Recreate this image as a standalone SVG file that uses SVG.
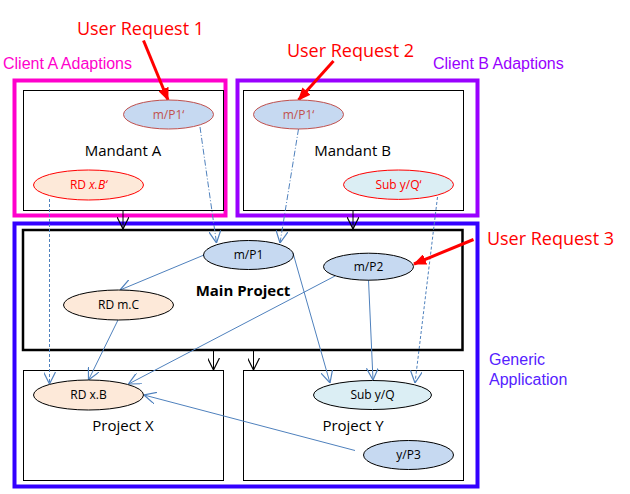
<svg xmlns="http://www.w3.org/2000/svg" width="630" height="494" viewBox="0 0 630 494">
<defs>
<style>
.frame{fill:none;stroke-width:4}
.box{fill:#fff;stroke:#000;stroke-width:1}
.t{font-family:"Open Sans","Liberation Sans",sans-serif;text-anchor:middle}
.lbl{font-family:"Liberation Sans",Arial,sans-serif;font-size:16px}
.ell{font-family:"Open Sans","Liberation Sans",sans-serif;font-size:12px;text-anchor:middle}
.blue{fill:#C6D9F1}
.peach{fill:#FDE9D9}
.cyan{fill:#DBEEF4}
.bl{stroke:#4F81BD;stroke-width:1;fill:none}
.dd{stroke:#4F81BD;stroke-width:1;fill:none;stroke-dasharray:6 2 1 2}
.ds{stroke:#4F81BD;stroke-width:1;fill:none;stroke-dasharray:3 2}
.blk{stroke:#000;stroke-width:1;fill:none}
.red{stroke:#FF0000;stroke-width:3;fill:none}
</style>
<marker id="ob" markerWidth="12" markerHeight="12" refX="10" refY="5" orient="auto" markerUnits="userSpaceOnUse" viewBox="0 0 10 10">
<path d="M0,0 L10,5 L0,10" fill="none" stroke="#4F81BD" stroke-width="1"/>
</marker>
<marker id="ok" markerWidth="12" markerHeight="12" refX="10" refY="5" orient="auto" markerUnits="userSpaceOnUse" viewBox="0 0 10 10">
<path d="M0,0 L10,5 L0,10" fill="none" stroke="#000" stroke-width="1"/>
</marker>
<marker id="rd" markerWidth="13" markerHeight="11" refX="12" refY="5.5" orient="auto" markerUnits="userSpaceOnUse" viewBox="0 0 13 11">
<path d="M0,0 L13,5.5 L0,11 Z" fill="#FF0000"/>
</marker>
</defs>
<rect width="630" height="494" fill="#fff"/>

<g id="generic-application">
<rect class="frame" x="14.5" y="223.5" width="463" height="263" stroke="#3300FF"/>
<text class="lbl" x="489" y="365" fill="#5522FF">Generic</text>
<text class="lbl" x="489" y="384.5" fill="#5522FF">Application</text>
</g>
<g id="client-a">
<rect class="frame" x="14.5" y="80.5" width="211" height="135" stroke="#FF00CC"/>
<text class="lbl" x="3" y="69" fill="#FF00CC">Client A Adaptions</text>
</g>
<g id="client-b">
<rect class="frame" x="237.5" y="80.5" width="240" height="135" stroke="#9900FF"/>
<text class="lbl" x="433" y="68.5" fill="#9900FF">Client B Adaptions</text>
</g>
<g id="mandant-a">
<rect class="box" x="23.5" y="90.5" width="200" height="120"/>
<text class="t" x="123" y="156" font-size="15">Mandant A</text>
</g>
<g id="mandant-b">
<rect class="box" x="243.5" y="90.5" width="220" height="120"/>
<text class="t" x="352.5" y="156" font-size="15">Mandant B</text>
</g>
<g id="main-project">
<rect x="23" y="230" width="439.5" height="120" fill="#fff" stroke="#000" stroke-width="2.5"/>
<text class="t" x="243" y="296" font-size="15" font-weight="bold">Main Project</text>
</g>
<g id="project-x">
<rect class="box" x="23.5" y="370.5" width="200" height="110"/>
<text class="t" x="123" y="431" font-size="15">Project X</text>
</g>
<g id="project-y">
<rect class="box" x="243.5" y="370.5" width="220" height="110"/>
<text class="t" x="353" y="431" font-size="15">Project Y</text>
</g>

<g id="connectors">
<line class="blk" x1="123" y1="211" x2="123" y2="229" marker-end="url(#ok)"/>
<line class="blk" x1="353" y1="211" x2="353" y2="229" marker-end="url(#ok)"/>
<line class="blk" x1="213.5" y1="351" x2="213.5" y2="370" marker-end="url(#ok)"/>
<line class="blk" x1="253.5" y1="351" x2="253.5" y2="370" marker-end="url(#ok)"/>
<line class="dd" x1="200" y1="127" x2="216.5" y2="243" marker-end="url(#ob)"/>
<line class="dd" x1="298.5" y1="129" x2="280" y2="243" marker-end="url(#ob)"/>
<line class="ds" x1="49.5" y1="199" x2="49.5" y2="384" marker-end="url(#ob)"/>
<line class="ds" x1="437.5" y1="197" x2="415" y2="383" marker-end="url(#ob)"/>
<line class="bl" x1="204" y1="255" x2="120" y2="290" marker-end="url(#ob)"/>
<line class="bl" x1="118" y1="320" x2="88.5" y2="380" marker-end="url(#ob)"/>
<line class="bl" x1="335" y1="276" x2="128.5" y2="384" marker-end="url(#ob)"/>
<line class="bl" x1="293" y1="253" x2="330" y2="383" marker-end="url(#ob)"/>
<line class="bl" x1="368.5" y1="280" x2="373" y2="380" marker-end="url(#ob)"/>
<line class="bl" x1="355" y1="450.5" x2="144" y2="395" marker-end="url(#ob)"/>
<line class="red" x1="143.5" y1="40.5" x2="168" y2="100" marker-end="url(#rd)"/>
<line class="red" x1="333.5" y1="61" x2="298.5" y2="100" marker-end="url(#rd)"/>
<line class="red" x1="473.5" y1="239.5" x2="414" y2="264" marker-end="url(#rd)"/>
</g>

<g id="node-mp1a">
<ellipse cx="168.5" cy="114.5" rx="45" ry="14.5" class="blue" stroke="#C0504D" stroke-width="1"/>
<text class="ell" x="168.5" y="118.5" fill="#C0504D">m/P1‘</text>
</g>
<g id="node-rdxb-prime">
<ellipse cx="88.5" cy="185" rx="55" ry="15" class="peach" stroke="#FF0000" stroke-width="1"/>
<text class="ell" x="88.5" y="189" fill="#FF0000">RD <tspan font-style="italic">x.B‘</tspan></text>
</g>
<g id="node-mp1b">
<ellipse cx="298.5" cy="114.5" rx="45" ry="14.5" class="blue" stroke="#C0504D" stroke-width="1"/>
<text class="ell" x="298.5" y="118.5" fill="#C0504D">m/P1‘</text>
</g>
<g id="node-subyq-prime">
<ellipse cx="398.5" cy="184.7" rx="55" ry="14.7" class="cyan" stroke="#FF0000" stroke-width="1"/>
<text class="ell" x="398.5" y="188.7" fill="#FF0000">Sub y/Q‘</text>
</g>
<g id="node-mp1">
<ellipse cx="248.5" cy="255" rx="45" ry="14.5" class="blue" stroke="#000" stroke-width="1"/>
<text class="ell" x="248.5" y="259" fill="#000">m/P1</text>
</g>
<g id="node-mp2">
<ellipse cx="368.5" cy="266.7" rx="45" ry="13.5" class="blue" stroke="#000" stroke-width="1"/>
<text class="ell" x="368.5" y="270.7" fill="#000">m/P2</text>
</g>
<g id="node-rdmc">
<ellipse cx="118.5" cy="305" rx="55" ry="15" class="peach" stroke="#000" stroke-width="1"/>
<text class="ell" x="118.5" y="309" fill="#000">RD m.C</text>
</g>
<g id="node-rdxb">
<ellipse cx="88.5" cy="395" rx="55" ry="15" class="peach" stroke="#000" stroke-width="1"/>
<text class="ell" x="88.5" y="399" fill="#000">RD x.B</text>
</g>
<g id="node-subyq">
<ellipse cx="372.5" cy="395" rx="59" ry="14.5" class="cyan" stroke="#000" stroke-width="1"/>
<text class="ell" x="372.5" y="399" fill="#000">Sub y/Q</text>
</g>
<g id="node-yp3">
<ellipse cx="408.5" cy="455" rx="45" ry="14.5" class="blue" stroke="#000" stroke-width="1"/>
<text class="ell" x="408.5" y="459" fill="#000">y/P3</text>
</g>

<g id="user-requests">
<text class="t" x="140.5" y="35" font-size="18" fill="#FF0000">User Request  1</text>
<text class="t" x="350.5" y="56.5" font-size="18" fill="#FF0000">User Request  2</text>
<text class="t" x="550.5" y="245" font-size="18" fill="#FF0000">User Request  3</text>
</g>
</svg>
